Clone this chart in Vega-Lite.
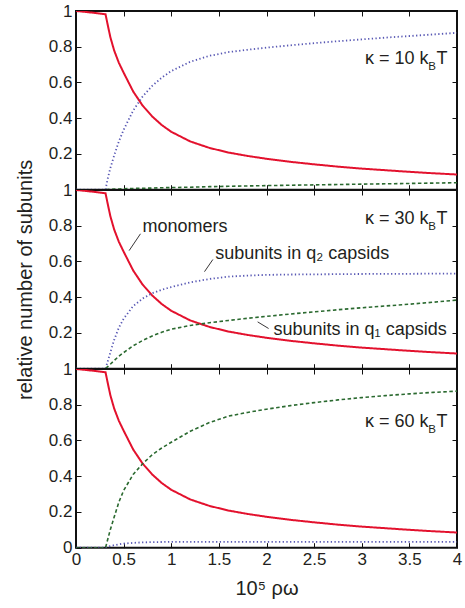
{
"$schema": "https://vega.github.io/schema/vega-lite/v6.json",
"background": "white",
"padding": {"left": 14, "top": 1, "right": 5, "bottom": 5},
"spacing": 0,
"bounds": "flush",
"datasets": {
"curves": [
{"p":1,"s":"monomers","x":0,"y":1.0},{"p":1,"s":"monomers","x":0.1,"y":0.995},{"p":1,"s":"monomers","x":0.2,"y":0.989},{"p":1,"s":"monomers","x":0.31,"y":0.982},{"p":1,"s":"monomers","x":0.33,"y":0.93},{"p":1,"s":"monomers","x":0.36,"y":0.855},{"p":1,"s":"monomers","x":0.4,"y":0.78},{"p":1,"s":"monomers","x":0.45,"y":0.71},{"p":1,"s":"monomers","x":0.5,"y":0.655},{"p":1,"s":"monomers","x":0.6,"y":0.55},{"p":1,"s":"monomers","x":0.7,"y":0.47},{"p":1,"s":"monomers","x":0.8,"y":0.41},{"p":1,"s":"monomers","x":0.9,"y":0.362},{"p":1,"s":"monomers","x":1.0,"y":0.324},{"p":1,"s":"monomers","x":1.2,"y":0.27},{"p":1,"s":"monomers","x":1.4,"y":0.234},{"p":1,"s":"monomers","x":1.6,"y":0.208},{"p":1,"s":"monomers","x":1.8,"y":0.189},{"p":1,"s":"monomers","x":2.0,"y":0.173},{"p":1,"s":"monomers","x":2.25,"y":0.156},{"p":1,"s":"monomers","x":2.5,"y":0.142},{"p":1,"s":"monomers","x":2.75,"y":0.129},{"p":1,"s":"monomers","x":3.0,"y":0.118},{"p":1,"s":"monomers","x":3.25,"y":0.109},{"p":1,"s":"monomers","x":3.5,"y":0.1},{"p":1,"s":"monomers","x":3.75,"y":0.092},{"p":1,"s":"monomers","x":4.0,"y":0.085},
{"p":1,"s":"q2","x":0,"y":0},{"p":1,"s":"q2","x":0.1,"y":0},{"p":1,"s":"q2","x":0.2,"y":0},{"p":1,"s":"q2","x":0.31,"y":0},{"p":1,"s":"q2","x":0.33,"y":0.055},{"p":1,"s":"q2","x":0.36,"y":0.12},{"p":1,"s":"q2","x":0.4,"y":0.19},{"p":1,"s":"q2","x":0.45,"y":0.27},{"p":1,"s":"q2","x":0.5,"y":0.335},{"p":1,"s":"q2","x":0.6,"y":0.443},{"p":1,"s":"q2","x":0.7,"y":0.522},{"p":1,"s":"q2","x":0.8,"y":0.581},{"p":1,"s":"q2","x":0.9,"y":0.627},{"p":1,"s":"q2","x":1.0,"y":0.664},{"p":1,"s":"q2","x":1.2,"y":0.716},{"p":1,"s":"q2","x":1.4,"y":0.749},{"p":1,"s":"q2","x":1.6,"y":0.77},{"p":1,"s":"q2","x":1.8,"y":0.783},{"p":1,"s":"q2","x":2.0,"y":0.795},{"p":1,"s":"q2","x":2.25,"y":0.808},{"p":1,"s":"q2","x":2.5,"y":0.82},{"p":1,"s":"q2","x":2.75,"y":0.831},{"p":1,"s":"q2","x":3.0,"y":0.841},{"p":1,"s":"q2","x":3.25,"y":0.851},{"p":1,"s":"q2","x":3.5,"y":0.86},{"p":1,"s":"q2","x":3.75,"y":0.869},{"p":1,"s":"q2","x":4.0,"y":0.878},
{"p":1,"s":"q1","x":0,"y":0},{"p":1,"s":"q1","x":0.1,"y":0},{"p":1,"s":"q1","x":0.2,"y":0},{"p":1,"s":"q1","x":0.31,"y":0},{"p":1,"s":"q1","x":0.33,"y":0.001},{"p":1,"s":"q1","x":0.36,"y":0.002},{"p":1,"s":"q1","x":0.4,"y":0.003},{"p":1,"s":"q1","x":0.45,"y":0.004},{"p":1,"s":"q1","x":0.5,"y":0.005},{"p":1,"s":"q1","x":0.6,"y":0.007},{"p":1,"s":"q1","x":0.7,"y":0.008},{"p":1,"s":"q1","x":0.8,"y":0.009},{"p":1,"s":"q1","x":0.9,"y":0.011},{"p":1,"s":"q1","x":1.0,"y":0.012},{"p":1,"s":"q1","x":1.2,"y":0.014},{"p":1,"s":"q1","x":1.4,"y":0.017},{"p":1,"s":"q1","x":1.6,"y":0.019},{"p":1,"s":"q1","x":1.8,"y":0.021},{"p":1,"s":"q1","x":2.0,"y":0.023},{"p":1,"s":"q1","x":2.25,"y":0.025},{"p":1,"s":"q1","x":2.5,"y":0.027},{"p":1,"s":"q1","x":2.75,"y":0.029},{"p":1,"s":"q1","x":3.0,"y":0.031},{"p":1,"s":"q1","x":3.25,"y":0.033},{"p":1,"s":"q1","x":3.5,"y":0.035},{"p":1,"s":"q1","x":3.75,"y":0.037},{"p":1,"s":"q1","x":4.0,"y":0.039},
{"p":2,"s":"monomers","x":0,"y":1.0},{"p":2,"s":"monomers","x":0.1,"y":0.995},{"p":2,"s":"monomers","x":0.2,"y":0.989},{"p":2,"s":"monomers","x":0.31,"y":0.982},{"p":2,"s":"monomers","x":0.33,"y":0.93},{"p":2,"s":"monomers","x":0.36,"y":0.855},{"p":2,"s":"monomers","x":0.4,"y":0.78},{"p":2,"s":"monomers","x":0.45,"y":0.71},{"p":2,"s":"monomers","x":0.5,"y":0.655},{"p":2,"s":"monomers","x":0.6,"y":0.55},{"p":2,"s":"monomers","x":0.7,"y":0.47},{"p":2,"s":"monomers","x":0.8,"y":0.41},{"p":2,"s":"monomers","x":0.9,"y":0.362},{"p":2,"s":"monomers","x":1.0,"y":0.324},{"p":2,"s":"monomers","x":1.2,"y":0.27},{"p":2,"s":"monomers","x":1.4,"y":0.234},{"p":2,"s":"monomers","x":1.6,"y":0.208},{"p":2,"s":"monomers","x":1.8,"y":0.189},{"p":2,"s":"monomers","x":2.0,"y":0.173},{"p":2,"s":"monomers","x":2.25,"y":0.156},{"p":2,"s":"monomers","x":2.5,"y":0.142},{"p":2,"s":"monomers","x":2.75,"y":0.129},{"p":2,"s":"monomers","x":3.0,"y":0.118},{"p":2,"s":"monomers","x":3.25,"y":0.109},{"p":2,"s":"monomers","x":3.5,"y":0.1},{"p":2,"s":"monomers","x":3.75,"y":0.092},{"p":2,"s":"monomers","x":4.0,"y":0.085},
{"p":2,"s":"q2","x":0,"y":0},{"p":2,"s":"q2","x":0.1,"y":0},{"p":2,"s":"q2","x":0.2,"y":0},{"p":2,"s":"q2","x":0.31,"y":0},{"p":2,"s":"q2","x":0.33,"y":0.035},{"p":2,"s":"q2","x":0.36,"y":0.09},{"p":2,"s":"q2","x":0.4,"y":0.16},{"p":2,"s":"q2","x":0.45,"y":0.23},{"p":2,"s":"q2","x":0.5,"y":0.28},{"p":2,"s":"q2","x":0.6,"y":0.35},{"p":2,"s":"q2","x":0.7,"y":0.393},{"p":2,"s":"q2","x":0.8,"y":0.422},{"p":2,"s":"q2","x":0.9,"y":0.442},{"p":2,"s":"q2","x":1.0,"y":0.457},{"p":2,"s":"q2","x":1.2,"y":0.483},{"p":2,"s":"q2","x":1.4,"y":0.502},{"p":2,"s":"q2","x":1.6,"y":0.515},{"p":2,"s":"q2","x":1.8,"y":0.521},{"p":2,"s":"q2","x":2.0,"y":0.525},{"p":2,"s":"q2","x":2.25,"y":0.527},{"p":2,"s":"q2","x":2.5,"y":0.528},{"p":2,"s":"q2","x":2.75,"y":0.529},{"p":2,"s":"q2","x":3.0,"y":0.53},{"p":2,"s":"q2","x":3.25,"y":0.531},{"p":2,"s":"q2","x":3.5,"y":0.531},{"p":2,"s":"q2","x":3.75,"y":0.532},{"p":2,"s":"q2","x":4.0,"y":0.532},
{"p":2,"s":"q1","x":0,"y":0},{"p":2,"s":"q1","x":0.1,"y":0},{"p":2,"s":"q1","x":0.2,"y":0},{"p":2,"s":"q1","x":0.31,"y":0},{"p":2,"s":"q1","x":0.33,"y":0.01},{"p":2,"s":"q1","x":0.36,"y":0.025},{"p":2,"s":"q1","x":0.4,"y":0.045},{"p":2,"s":"q1","x":0.45,"y":0.07},{"p":2,"s":"q1","x":0.5,"y":0.09},{"p":2,"s":"q1","x":0.6,"y":0.128},{"p":2,"s":"q1","x":0.7,"y":0.158},{"p":2,"s":"q1","x":0.8,"y":0.183},{"p":2,"s":"q1","x":0.9,"y":0.204},{"p":2,"s":"q1","x":1.0,"y":0.221},{"p":2,"s":"q1","x":1.2,"y":0.242},{"p":2,"s":"q1","x":1.4,"y":0.257},{"p":2,"s":"q1","x":1.6,"y":0.27},{"p":2,"s":"q1","x":1.8,"y":0.282},{"p":2,"s":"q1","x":2.0,"y":0.293},{"p":2,"s":"q1","x":2.25,"y":0.306},{"p":2,"s":"q1","x":2.5,"y":0.318},{"p":2,"s":"q1","x":2.75,"y":0.33},{"p":2,"s":"q1","x":3.0,"y":0.341},{"p":2,"s":"q1","x":3.25,"y":0.351},{"p":2,"s":"q1","x":3.5,"y":0.361},{"p":2,"s":"q1","x":3.75,"y":0.372},{"p":2,"s":"q1","x":4.0,"y":0.384},
{"p":3,"s":"monomers","x":0,"y":1.0},{"p":3,"s":"monomers","x":0.1,"y":0.995},{"p":3,"s":"monomers","x":0.2,"y":0.989},{"p":3,"s":"monomers","x":0.31,"y":0.982},{"p":3,"s":"monomers","x":0.33,"y":0.93},{"p":3,"s":"monomers","x":0.36,"y":0.855},{"p":3,"s":"monomers","x":0.4,"y":0.78},{"p":3,"s":"monomers","x":0.45,"y":0.71},{"p":3,"s":"monomers","x":0.5,"y":0.655},{"p":3,"s":"monomers","x":0.6,"y":0.55},{"p":3,"s":"monomers","x":0.7,"y":0.47},{"p":3,"s":"monomers","x":0.8,"y":0.41},{"p":3,"s":"monomers","x":0.9,"y":0.362},{"p":3,"s":"monomers","x":1.0,"y":0.324},{"p":3,"s":"monomers","x":1.2,"y":0.27},{"p":3,"s":"monomers","x":1.4,"y":0.234},{"p":3,"s":"monomers","x":1.6,"y":0.208},{"p":3,"s":"monomers","x":1.8,"y":0.189},{"p":3,"s":"monomers","x":2.0,"y":0.173},{"p":3,"s":"monomers","x":2.25,"y":0.156},{"p":3,"s":"monomers","x":2.5,"y":0.142},{"p":3,"s":"monomers","x":2.75,"y":0.129},{"p":3,"s":"monomers","x":3.0,"y":0.118},{"p":3,"s":"monomers","x":3.25,"y":0.109},{"p":3,"s":"monomers","x":3.5,"y":0.1},{"p":3,"s":"monomers","x":3.75,"y":0.092},{"p":3,"s":"monomers","x":4.0,"y":0.085},
{"p":3,"s":"q2","x":0,"y":0},{"p":3,"s":"q2","x":0.1,"y":0},{"p":3,"s":"q2","x":0.2,"y":0},{"p":3,"s":"q2","x":0.31,"y":0},{"p":3,"s":"q2","x":0.33,"y":0.004},{"p":3,"s":"q2","x":0.36,"y":0.009},{"p":3,"s":"q2","x":0.4,"y":0.014},{"p":3,"s":"q2","x":0.45,"y":0.019},{"p":3,"s":"q2","x":0.5,"y":0.023},{"p":3,"s":"q2","x":0.6,"y":0.027},{"p":3,"s":"q2","x":0.7,"y":0.03},{"p":3,"s":"q2","x":0.8,"y":0.031},{"p":3,"s":"q2","x":0.9,"y":0.032},{"p":3,"s":"q2","x":1.0,"y":0.033},{"p":3,"s":"q2","x":1.2,"y":0.033},{"p":3,"s":"q2","x":1.4,"y":0.033},{"p":3,"s":"q2","x":1.6,"y":0.033},{"p":3,"s":"q2","x":1.8,"y":0.033},{"p":3,"s":"q2","x":2.0,"y":0.033},{"p":3,"s":"q2","x":2.25,"y":0.033},{"p":3,"s":"q2","x":2.5,"y":0.033},{"p":3,"s":"q2","x":2.75,"y":0.033},{"p":3,"s":"q2","x":3.0,"y":0.033},{"p":3,"s":"q2","x":3.25,"y":0.033},{"p":3,"s":"q2","x":3.5,"y":0.033},{"p":3,"s":"q2","x":3.75,"y":0.033},{"p":3,"s":"q2","x":4.0,"y":0.033},
{"p":3,"s":"q1","x":0,"y":0},{"p":3,"s":"q1","x":0.1,"y":0},{"p":3,"s":"q1","x":0.2,"y":0},{"p":3,"s":"q1","x":0.31,"y":0},{"p":3,"s":"q1","x":0.33,"y":0.04},{"p":3,"s":"q1","x":0.36,"y":0.1},{"p":3,"s":"q1","x":0.4,"y":0.17},{"p":3,"s":"q1","x":0.45,"y":0.255},{"p":3,"s":"q1","x":0.5,"y":0.32},{"p":3,"s":"q1","x":0.6,"y":0.41},{"p":3,"s":"q1","x":0.7,"y":0.47},{"p":3,"s":"q1","x":0.8,"y":0.52},{"p":3,"s":"q1","x":0.9,"y":0.558},{"p":3,"s":"q1","x":1.0,"y":0.59},{"p":3,"s":"q1","x":1.2,"y":0.652},{"p":3,"s":"q1","x":1.4,"y":0.7},{"p":3,"s":"q1","x":1.6,"y":0.736},{"p":3,"s":"q1","x":1.8,"y":0.757},{"p":3,"s":"q1","x":2.0,"y":0.775},{"p":3,"s":"q1","x":2.25,"y":0.795},{"p":3,"s":"q1","x":2.5,"y":0.812},{"p":3,"s":"q1","x":2.75,"y":0.827},{"p":3,"s":"q1","x":3.0,"y":0.84},{"p":3,"s":"q1","x":3.25,"y":0.851},{"p":3,"s":"q1","x":3.5,"y":0.861},{"p":3,"s":"q1","x":3.75,"y":0.869},{"p":3,"s":"q1","x":4.0,"y":0.876}
],
"labels": [
{"p":1,"part":"main","x":3.9,"y":0.706,"t":"κ = 10 k"},{"p":1,"part":"sub","x":3.9,"y":0.706,"t":"B"},{"p":1,"part":"T","x":3.9,"y":0.706,"t":"T"},
{"p":2,"part":"main","x":3.9,"y":0.81,"t":"κ = 30 k"},{"p":2,"part":"sub","x":3.9,"y":0.81,"t":"B"},{"p":2,"part":"T","x":3.9,"y":0.81,"t":"T"},
{"p":3,"part":"main","x":3.9,"y":0.674,"t":"κ = 60 k"},{"p":3,"part":"sub","x":3.9,"y":0.674,"t":"B"},{"p":3,"part":"T","x":3.9,"y":0.674,"t":"T"},
{"p":2,"part":"ann","x":0.698,"y":0.764,"t":"monomers"},
{"p":2,"part":"ann","x":1.461,"y":0.612,"t":"subunits in q₂ capsids"},
{"p":2,"part":"ann","x":2.074,"y":0.189,"t":"subunits in q₁ capsids"}
],
"leaders": [
{"x":0.558,"y":0.661,"x2":0.677,"y2":0.755},
{"x":1.349,"y":0.543,"x2":1.437,"y2":0.611},
{"x":1.907,"y":0.262,"x2":2.022,"y2":0.225}
]
},
"vconcat": [
{
"width": 381, "height": 178.7,
"resolve": {"axis": {"x": "independent", "y": "independent"}},
"layer": [
{"data": {"name": "curves"}, "transform": [{"filter": "datum.p == 1"}],
 "mark": {"type": "line", "clip": true},
 "encoding": {
  "x": {"field": "x", "type": "quantitative", "scale": {"domain": [0, 4], "nice": false}, "axis": {"values": [0.5,1,1.5,2,2.5,3,3.5], "labels": false, "title": null}},
  "y": {"field": "y", "type": "quantitative", "scale": {"domain": [0, 1], "nice": false}, "axis": {"values": [0.2,0.4,0.6,0.8,1], "format": "~g", "title": null}},
  "color": {"field": "s", "type": "nominal", "scale": {"domain": ["monomers","q2","q1"], "range": ["#e3112d","#5858b4","#2b6a30"]}, "legend": null},
  "strokeDash": {"field": "s", "type": "nominal", "scale": {"domain": ["monomers","q2","q1"], "range": [[1,0],[1.3,2.4],[3.5,2.5]]}, "legend": null},
  "strokeWidth": {"field": "s", "type": "nominal", "scale": {"domain": ["monomers","q2","q1"], "range": [2,1.6,2.2]}, "legend": null}
 }},
{"data": {"name": "labels"}, "transform": [{"filter": "datum.p == 1 && datum.part == 'main'"}],
 "mark": {"type": "text", "align": "right", "baseline": "alphabetic", "dx": -19, "fontSize": 18},
 "encoding": {"x": {"field": "x", "type": "quantitative", "axis": null}, "y": {"field": "y", "type": "quantitative", "axis": null}, "text": {"field": "t"}}},
{"data": {"name": "labels"}, "transform": [{"filter": "datum.p == 1 && datum.part == 'sub'"}],
 "mark": {"type": "text", "align": "right", "baseline": "alphabetic", "dx": -11.5, "dy": 6, "fontSize": 11.5},
 "encoding": {"x": {"field": "x", "type": "quantitative", "axis": null}, "y": {"field": "y", "type": "quantitative", "axis": null}, "text": {"field": "t"}}},
{"data": {"name": "labels"}, "transform": [{"filter": "datum.p == 1 && datum.part == 'T'"}],
 "mark": {"type": "text", "align": "right", "baseline": "alphabetic", "fontSize": 18},
 "encoding": {"x": {"field": "x", "type": "quantitative", "axis": null}, "y": {"field": "y", "type": "quantitative", "axis": null}, "text": {"field": "t"}}},
{"data": {"name": "curves"}, "transform": [{"filter": "datum.p == 1"}],
 "mark": {"type": "point", "opacity": 0},
 "encoding": {
  "x": {"field": "x", "type": "quantitative", "axis": {"orient": "top", "values": [0.5,1,1.5,2,2.5,3,3.5], "labels": false, "title": null}},
  "y": {"field": "y", "type": "quantitative", "axis": {"orient": "right", "values": [0.2,0.4,0.6,0.8], "labels": false, "title": null}}
 }}
]
},
{
"width": 381, "height": 178.7,
"resolve": {"axis": {"x": "independent", "y": "independent"}},
"layer": [
{"data": {"name": "curves"}, "transform": [{"filter": "datum.p == 2"}],
 "mark": {"type": "line", "clip": true},
 "encoding": {
  "x": {"field": "x", "type": "quantitative", "scale": {"domain": [0, 4], "nice": false}, "axis": {"values": [0.5,1,1.5,2,2.5,3,3.5], "labels": false, "title": null}},
  "y": {"field": "y", "type": "quantitative", "scale": {"domain": [0, 1], "nice": false}, "axis": {"values": [0.2,0.4,0.6,0.8,1], "format": "~g", "title": "relative number of subunits", "titlePadding": 13}},
  "color": {"field": "s", "type": "nominal", "scale": {"domain": ["monomers","q2","q1"], "range": ["#e3112d","#5858b4","#2b6a30"]}, "legend": null},
  "strokeDash": {"field": "s", "type": "nominal", "scale": {"domain": ["monomers","q2","q1"], "range": [[1,0],[1.3,2.4],[3.5,2.5]]}, "legend": null},
  "strokeWidth": {"field": "s", "type": "nominal", "scale": {"domain": ["monomers","q2","q1"], "range": [2,1.6,2.2]}, "legend": null}
 }},
{"data": {"name": "leaders"},
 "mark": {"type": "rule", "color": "#231f20", "strokeWidth": 0.9},
 "encoding": {"x": {"field": "x", "type": "quantitative", "axis": null}, "y": {"field": "y", "type": "quantitative", "axis": null}, "x2": {"field": "x2"}, "y2": {"field": "y2"}}},
{"data": {"name": "labels"}, "transform": [{"filter": "datum.p == 2 && datum.part == 'ann'"}],
 "mark": {"type": "text", "align": "left", "baseline": "alphabetic", "fontSize": 18},
 "encoding": {"x": {"field": "x", "type": "quantitative", "axis": null}, "y": {"field": "y", "type": "quantitative", "axis": null}, "text": {"field": "t"}}},
{"data": {"name": "labels"}, "transform": [{"filter": "datum.p == 2 && datum.part == 'main'"}],
 "mark": {"type": "text", "align": "right", "baseline": "alphabetic", "dx": -19, "fontSize": 18},
 "encoding": {"x": {"field": "x", "type": "quantitative", "axis": null}, "y": {"field": "y", "type": "quantitative", "axis": null}, "text": {"field": "t"}}},
{"data": {"name": "labels"}, "transform": [{"filter": "datum.p == 2 && datum.part == 'sub'"}],
 "mark": {"type": "text", "align": "right", "baseline": "alphabetic", "dx": -11.5, "dy": 6, "fontSize": 11.5},
 "encoding": {"x": {"field": "x", "type": "quantitative", "axis": null}, "y": {"field": "y", "type": "quantitative", "axis": null}, "text": {"field": "t"}}},
{"data": {"name": "labels"}, "transform": [{"filter": "datum.p == 2 && datum.part == 'T'"}],
 "mark": {"type": "text", "align": "right", "baseline": "alphabetic", "fontSize": 18},
 "encoding": {"x": {"field": "x", "type": "quantitative", "axis": null}, "y": {"field": "y", "type": "quantitative", "axis": null}, "text": {"field": "t"}}},
{"data": {"name": "curves"}, "transform": [{"filter": "datum.p == 2"}],
 "mark": {"type": "point", "opacity": 0},
 "encoding": {
  "x": {"field": "x", "type": "quantitative", "axis": {"orient": "top", "values": [0.5,1,1.5,2,2.5,3,3.5], "labels": false, "title": null}},
  "y": {"field": "y", "type": "quantitative", "axis": {"orient": "right", "values": [0.2,0.4,0.6,0.8], "labels": false, "title": null}}
 }}
]
},
{
"width": 381, "height": 178.7,
"resolve": {"axis": {"x": "independent", "y": "independent"}},
"layer": [
{"data": {"name": "curves"}, "transform": [{"filter": "datum.p == 3"}],
 "mark": {"type": "line", "clip": true},
 "encoding": {
  "x": {"field": "x", "type": "quantitative", "scale": {"domain": [0, 4], "nice": false}, "axis": {"values": [0,0.5,1,1.5,2,2.5,3,3.5,4], "format": "~g", "title": "10⁵ ρω", "titlePadding": 11}},
  "y": {"field": "y", "type": "quantitative", "scale": {"domain": [0, 1], "nice": false}, "axis": {"values": [0,0.2,0.4,0.6,0.8,1], "format": "~g", "title": null}},
  "color": {"field": "s", "type": "nominal", "scale": {"domain": ["monomers","q2","q1"], "range": ["#e3112d","#5858b4","#2b6a30"]}, "legend": null},
  "strokeDash": {"field": "s", "type": "nominal", "scale": {"domain": ["monomers","q2","q1"], "range": [[1,0],[1.3,2.4],[3.5,2.5]]}, "legend": null},
  "strokeWidth": {"field": "s", "type": "nominal", "scale": {"domain": ["monomers","q2","q1"], "range": [2,1.6,2.2]}, "legend": null}
 }},
{"data": {"name": "labels"}, "transform": [{"filter": "datum.p == 3 && datum.part == 'main'"}],
 "mark": {"type": "text", "align": "right", "baseline": "alphabetic", "dx": -19, "fontSize": 18},
 "encoding": {"x": {"field": "x", "type": "quantitative", "axis": null}, "y": {"field": "y", "type": "quantitative", "axis": null}, "text": {"field": "t"}}},
{"data": {"name": "labels"}, "transform": [{"filter": "datum.p == 3 && datum.part == 'sub'"}],
 "mark": {"type": "text", "align": "right", "baseline": "alphabetic", "dx": -11.5, "dy": 6, "fontSize": 11.5},
 "encoding": {"x": {"field": "x", "type": "quantitative", "axis": null}, "y": {"field": "y", "type": "quantitative", "axis": null}, "text": {"field": "t"}}},
{"data": {"name": "labels"}, "transform": [{"filter": "datum.p == 3 && datum.part == 'T'"}],
 "mark": {"type": "text", "align": "right", "baseline": "alphabetic", "fontSize": 18},
 "encoding": {"x": {"field": "x", "type": "quantitative", "axis": null}, "y": {"field": "y", "type": "quantitative", "axis": null}, "text": {"field": "t"}}},
{"data": {"name": "curves"}, "transform": [{"filter": "datum.p == 3"}],
 "mark": {"type": "point", "opacity": 0},
 "encoding": {
  "x": {"field": "x", "type": "quantitative", "axis": {"orient": "top", "values": [0.5,1,1.5,2,2.5,3,3.5], "labels": false, "title": null}},
  "y": {"field": "y", "type": "quantitative", "axis": {"orient": "right", "values": [0.2,0.4,0.6,0.8], "labels": false, "title": null}}
 }}
]
}
],
"config": {
 "view": {"stroke": "#111111", "strokeWidth": 2},
 "axis": {"domain": false, "grid": false, "ticks": true, "tickSize": -5, "tickColor": "#111111", "tickWidth": 1, "labelFont": "Liberation Sans", "labelFontSize": 17, "labelColor": "#231f20", "labelPadding": 9, "labelFlush": false, "labelOverlap": false, "titleFont": "Liberation Sans", "titleFontSize": 20, "titleFontWeight": "normal", "titleColor": "#231f20"},
 "text": {"font": "Liberation Sans", "fontSize": 18, "color": "#231f20"}
}
}
